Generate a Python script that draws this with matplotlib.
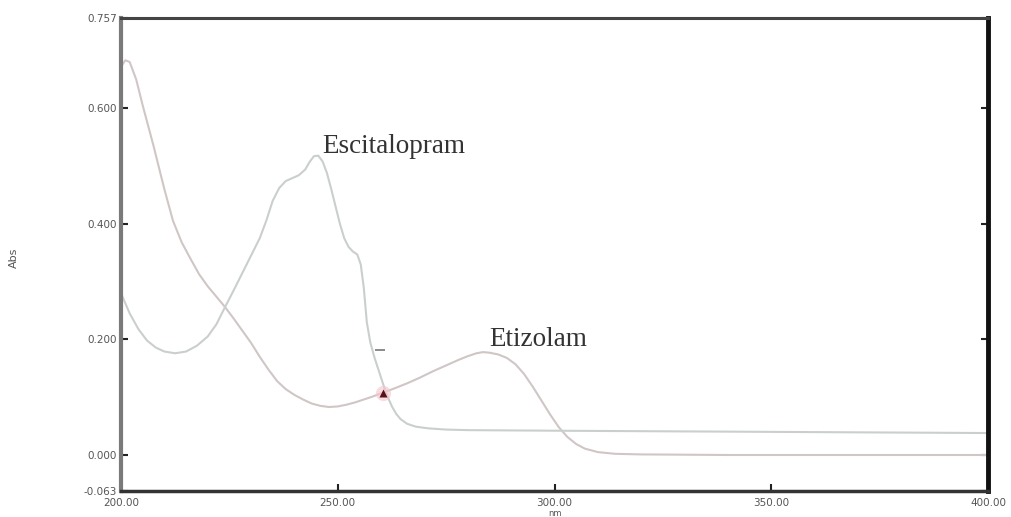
import matplotlib
matplotlib.use("Agg")
import matplotlib.pyplot as plt

# Absorption spectra (wavelength in nm, absorbance)
etizolam_nm = [200, 201, 202, 203.5, 205, 207.5, 210, 212, 214, 216, 218, 220,
               222, 224, 226, 228, 230, 232, 234, 236, 238, 240, 242, 244, 246,
               248, 250, 252, 254, 256, 258, 260.5, 263, 266, 269, 272, 275,
               278, 280, 282, 283.5, 285, 287, 289, 291, 293, 295, 297, 299,
               301, 303, 305, 307, 310, 314, 320, 340, 370, 400]
etizolam_abs = [0.672, 0.683, 0.680, 0.650, 0.605, 0.535, 0.460, 0.405, 0.368,
                0.340, 0.313, 0.292, 0.274, 0.256, 0.236, 0.215, 0.194, 0.170,
                0.148, 0.128, 0.114, 0.104, 0.096, 0.089, 0.085, 0.083, 0.084,
                0.087, 0.091, 0.096, 0.101, 0.108, 0.115, 0.124, 0.134, 0.145,
                0.155, 0.165, 0.171, 0.176, 0.178, 0.177, 0.174, 0.168, 0.157,
                0.140, 0.118, 0.094, 0.070, 0.048, 0.031, 0.019, 0.011, 0.005,
                0.002, 0.001, 0.0, 0.0, 0.0]

escitalopram_nm = [200, 202, 204, 206, 208, 210, 212.5, 215, 217.5, 220, 222,
                   224, 226, 228, 230, 232, 233.5, 235, 236.5, 238, 239.5, 241,
                   242.5, 243.5, 244.5, 245.5, 246.5, 247.5, 248.5, 249.5, 250.5,
                   251.5, 252.5, 253.5, 254.5, 255.3, 256, 256.7, 257.5, 258.5,
                   259.5, 260.5, 261.5, 262.5, 263.5, 264.5, 266, 268, 271, 275,
                   280, 300, 350, 400]
escitalopram_abs = [0.280, 0.245, 0.218, 0.198, 0.186, 0.179, 0.176, 0.179,
                    0.189, 0.205, 0.226, 0.256, 0.285, 0.315, 0.345, 0.375,
                    0.405, 0.440, 0.462, 0.474, 0.479, 0.484, 0.494, 0.507,
                    0.517, 0.518, 0.508, 0.488, 0.460, 0.430, 0.400, 0.375,
                    0.360, 0.352, 0.347, 0.330, 0.290, 0.230, 0.195, 0.168,
                    0.145, 0.122, 0.101, 0.084, 0.071, 0.062, 0.054, 0.049,
                    0.046, 0.044, 0.043, 0.042, 0.040, 0.038]

isosbestic_nm = 260.5
isosbestic_abs = 0.108

y_ticks = [-0.063, 0.0, 0.2, 0.4, 0.6, 0.757]
y_tick_labels = ["-0.063", "0.000", "0.200", "0.400", "0.600", "0.757"]
x_ticks = [200, 250, 300, 350, 400]
x_tick_labels = ["200.00", "250.00", "300.00", "350.00", "400.00"]

fig = plt.figure(figsize=(10.12, 5.17), dpi=100)
ax = fig.add_axes([121 / 1012, 1 - 491.4 / 517, (988 - 121) / 1012, (491.4 - 17.5) / 517])

ax.plot(etizolam_nm, etizolam_abs, color="#d0c6c6", lw=1.5)
ax.plot(escitalopram_nm, escitalopram_abs, color="#cacfce", lw=1.5)

# crossing point marker
ax.plot([isosbestic_nm], [isosbestic_abs], "o", ms=11, color="#f4c6cc", alpha=0.6, mec="none")
ax.plot([isosbestic_nm], [isosbestic_abs], "^", ms=6, color="#5a1018", mec="none")
ax.plot([259.7], [0.182], "_", ms=7, mew=1.2, color="#777777")

ax.set_xlim(200, 400)
ax.set_ylim(-0.063, 0.757)
ax.set_xticks(x_ticks)
ax.set_xticklabels(x_tick_labels)
ax.set_yticks(y_ticks)
ax.set_yticklabels(y_tick_labels)
ax.tick_params(axis="both", direction="in", length=5, width=1.5, color="#222222",
               labelsize=7.5, labelcolor="#555555")
ax.tick_params(axis="y", right=True, pad=3)
ax.tick_params(axis="x", pad=5)

for side, (lw, col) in {"left": (3, "#7a7a7a"), "bottom": (2.5, "#333333"),
                        "top": (2.2, "#444444"), "right": (3.5, "#111111")}.items():
    ax.spines[side].set_linewidth(lw)
    ax.spines[side].set_color(col)

serif = ["Liberation Serif", "DejaVu Serif"]
ax.text(246.4, 0.522, "Escitalopram", family=serif, fontsize=19.5, color="#333333")
ax.text(285.0, 0.189, "Etizolam", family=serif, fontsize=19.5, color="#333333")

fig.text(14 / 1012, 1 - 258 / 517, "Abs", rotation=90, fontsize=8, color="#555555",
         ha="center", va="center")
fig.text(555 / 1012, 1 - 513.5 / 517, "nm", fontsize=6, color="#555555",
         ha="center", va="center")

fig.savefig("out.png", dpi=100, facecolor="white")
